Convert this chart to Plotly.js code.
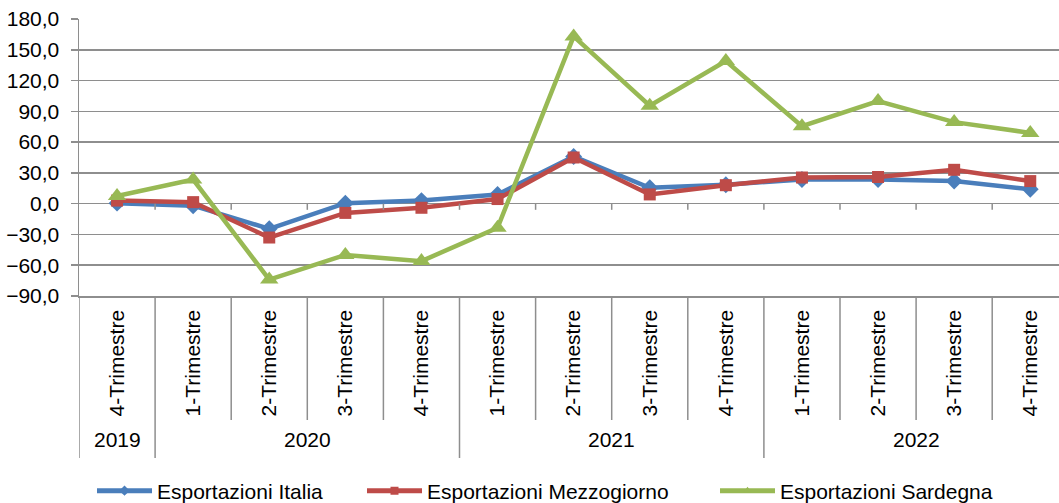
<!DOCTYPE html>
<html><head><meta charset="utf-8">
<script src="https://cdn.plot.ly/plotly-3.0.1.min.js"></script>
<style>html,body{margin:0;padding:0;background:#fff}#chart{width:1059px;height:503px}</style>
</head><body><div id="chart"></div>
<script>
const quarters = ['4-Trimestre','1-Trimestre','2-Trimestre','3-Trimestre','4-Trimestre','1-Trimestre','2-Trimestre','3-Trimestre','4-Trimestre','1-Trimestre','2-Trimestre','3-Trimestre','4-Trimestre'];
const years = ['2019','2020','2020','2020','2020','2021','2021','2021','2021','2022','2022','2022','2022'];
const italia = [0.5, -2.0, -24.5, 0.5, 3.0, 9.0, 46.0, 15.5, 18.5, 23.5, 23.5, 22.0, 14.0];
const mezzogiorno = [3.0, 1.5, -33.0, -9.0, -4.0, 4.5, 45.0, 9.0, 18.0, 25.5, 26.0, 33.0, 22.0];
const sardegna = [7.5, 23.5, -74.0, -50.0, -56.0, -23.5, 163.0, 95.5, 139.0, 75.5, 100.0, 79.5, 69.0];
const seriesNames = ['Esportazioni Italia','Esportazioni Mezzogiorno','Esportazioni Sardegna'];
const yTicks = [-90,-60,-30,0,30,60,90,120,150,180];

const idx = quarters.map((_, i) => i);
const FONT = 'Liberation Sans, Arial, sans-serif';
const FS = 21;
const gridCol = '#8e8e8e';
const colors = ['#4A7EBB', '#BE4B48', '#98B954'];
const symbols = ['diamond', 'square', 'triangle-up'];
const sizes = [13, 12, 16];
const legIds = ['legend', 'legend2', 'legend3'];
const series = [italia, mezzogiorno, sardegna];

const traces = [];
series.forEach((y, i) => {
  traces.push({x: idx, y: y, name: seriesNames[i], type: 'scatter', mode: 'lines+markers',
    line: {color: colors[i], width: 4.5}, marker: {symbol: symbols[i], size: sizes[i], color: colors[i]},
    showlegend: false});
});
// legend-only entries (small markers as in the reference legend)
series.forEach((y, i) => {
  traces.push({x: [null], y: [null], name: seriesNames[i], type: 'scatter', mode: 'lines+markers',
    line: {color: colors[i], width: 5}, marker: {symbol: symbols[i], size: 8, color: colors[i]},
    legend: legIds[i], showlegend: true});
});

const L = 79, T = 19, B = 207, W = 1059, H = 503;
const plotH = H - T - B;
const plotW = W - L;
const py = p => (H - B - p) / plotH;
const px = p => (p - L) / plotW;

const shapes = [];
for (let k = 0; k <= quarters.length; k++) {
  const xb = k - 0.5;
  const isYear = (k === 0) || (k < quarters.length && years[k] !== years[k-1]);
  shapes.push({type: 'line', xref: 'x', yref: 'paper', x0: xb, x1: xb, y0: 0, y1: py(isYear ? 458 : 420),
    line: {color: gridCol, width: 1.5}});
  if (k > 0) shapes.push({type: 'line', xref: 'x', yref: 'y', x0: xb, x1: xb, y0: 0, y1: -6,
    line: {color: gridCol, width: 1.5}});
}
const annotations = [];
const uniqYears = [...new Set(years)];
uniqYears.forEach(yr => {
  const ids = idx.filter(i => years[i] === yr);
  const c = (ids[0] + ids[ids.length - 1]) / 2;
  annotations.push({xref: 'x', yref: 'paper', x: c, y: py(440), text: yr, showarrow: false,
    xanchor: 'center', yanchor: 'middle', font: {family: FONT, size: FS, color: '#000'}});
});

const legBase = {orientation: 'h', yanchor: 'middle', xanchor: 'left', yref: 'container', y: (H - 491) / H,
  font: {family: FONT, size: FS, color: '#000'}, itemwidth: 55, bgcolor: 'rgba(0,0,0,0)', borderwidth: 0,
  tracegroupgap: 0};

const layout = {
  width: W, height: H,
  margin: {l: L, r: 0, t: T, b: B, pad: 0},
  paper_bgcolor: '#fff', plot_bgcolor: '#fff',
  font: {family: FONT, size: FS, color: '#000'},
  separators: ',.',
  xaxis: {range: [-0.5, -0.5 + plotW / 76.1], tickmode: 'array', tickvals: idx, ticktext: quarters,
    tickangle: -90, ticks: '', showgrid: false, zeroline: false, showline: true, linecolor: gridCol, linewidth: 1.5,
    tickfont: {family: FONT, size: FS, color: '#000'}, ticklabelstandoff: 4, fixedrange: true, automargin: false},
  yaxis: {range: [-90, 180], tickmode: 'array', tickvals: yTicks, tickformat: '.1f',
    showgrid: true, gridcolor: gridCol, gridwidth: 1.5, zeroline: false,
    showline: true, linecolor: gridCol, linewidth: 1.5, ticks: 'outside', ticklen: 7, tickcolor: gridCol, tickwidth: 1.5,
    tickfont: {family: FONT, size: FS, color: '#000'}, ticklabelstandoff: 7, fixedrange: true, automargin: false},
  shapes: shapes,
  annotations: annotations,
  legend: Object.assign({}, legBase, {x: px(92)}),
  legend2: Object.assign({}, legBase, {x: px(362)}),
  legend3: Object.assign({}, legBase, {x: px(715)}),
};
Plotly.newPlot('chart', traces, layout, {displayModeBar: false, staticPlot: true});
</script></body></html>
